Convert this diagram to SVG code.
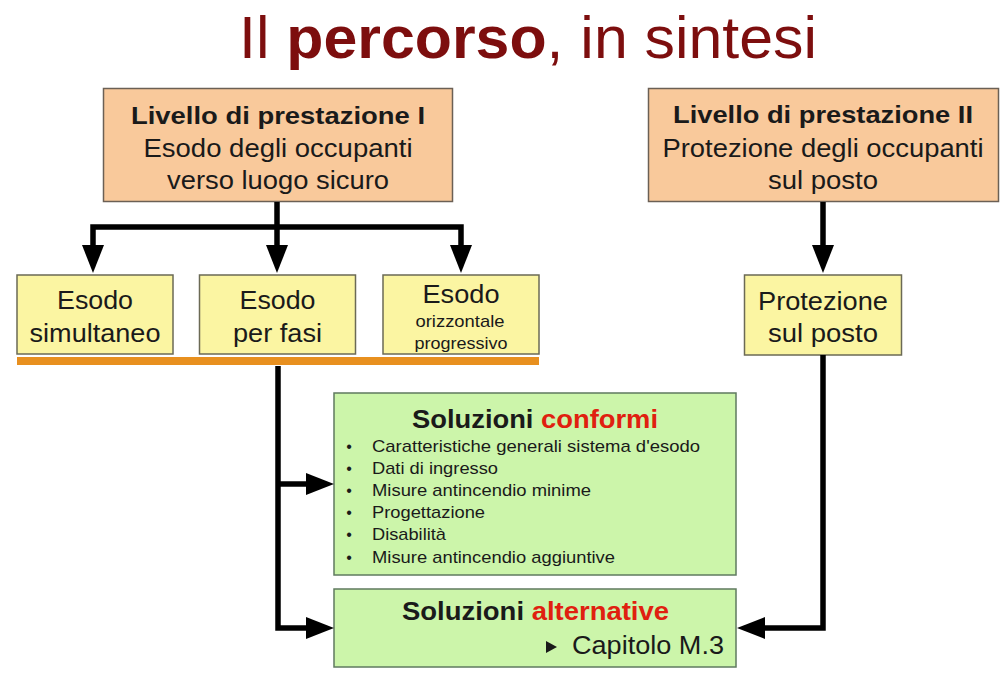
<svg xmlns="http://www.w3.org/2000/svg" width="1006" height="686" viewBox="0 0 1006 686">
<defs>
<marker id="ah" markerUnits="userSpaceOnUse" markerWidth="30" markerHeight="24" refX="0" refY="11" orient="auto-start-reverse">
<path d="M0,0 L28,11 L0,22 z" fill="#000"/>
</marker>
<style>
text{font-family:"Liberation Sans",Arial,sans-serif;fill:#1a1a1a;text-anchor:middle}
.b{font-weight:bold}
.peach{fill:#f9c99b;stroke:#6b6055;stroke-width:1.5}
.yel{fill:#fbf5a2;stroke:#6b6a55;stroke-width:1.5}
.grn{fill:#ccf5aa;stroke:#5f7a5f;stroke-width:1.5}
.red{fill:#e0200f}
.li{text-anchor:start;font-size:17px}
.bul{text-anchor:middle;font-size:16px}
.conn path{fill:none;stroke:#000;stroke-width:5.5;stroke-linejoin:miter}
</style>
</defs>
<rect width="1006" height="686" fill="#fff"/>
<text x="528" y="58" font-size="60" style="fill:#7d0e0e" textLength="578" lengthAdjust="spacingAndGlyphs">Il <tspan class="b" style="fill:#7d0e0e">percorso</tspan>, in sintesi</text>

<g id="liv1">
<rect class="peach" x="103.5" y="88.5" width="349" height="113"/>
<text class="b" x="278" y="124" font-size="24" textLength="294" lengthAdjust="spacingAndGlyphs">Livello di prestazione I</text>
<text x="278" y="157" font-size="25" textLength="269" lengthAdjust="spacingAndGlyphs">Esodo degli occupanti</text>
<text x="278" y="189" font-size="25" textLength="222" lengthAdjust="spacingAndGlyphs">verso luogo sicuro</text>
</g>
<g id="liv2">
<rect class="peach" x="648.5" y="88.5" width="350" height="113"/>
<text class="b" x="823" y="123" font-size="24" textLength="300" lengthAdjust="spacingAndGlyphs">Livello di prestazione II</text>
<text x="823" y="157" font-size="25" textLength="321" lengthAdjust="spacingAndGlyphs">Protezione degli occupanti</text>
<text x="823" y="189" font-size="25" textLength="110" lengthAdjust="spacingAndGlyphs">sul posto</text>
</g>
<g id="simultaneo">
<rect class="yel" x="17" y="275" width="156" height="79"/>
<text x="95" y="309" font-size="25" textLength="76" lengthAdjust="spacingAndGlyphs">Esodo</text>
<text x="95" y="342" font-size="25" textLength="131" lengthAdjust="spacingAndGlyphs">simultaneo</text>
</g>
<g id="fasi">
<rect class="yel" x="199.5" y="275" width="156" height="79"/>
<text x="277.5" y="309" font-size="25" textLength="76" lengthAdjust="spacingAndGlyphs">Esodo</text>
<text x="277.5" y="342" font-size="25" textLength="89" lengthAdjust="spacingAndGlyphs">per fasi</text>
</g>
<g id="orizzontale">
<rect class="yel" x="383" y="275" width="156" height="79"/>
<text x="461" y="303" font-size="25" textLength="77" lengthAdjust="spacingAndGlyphs">Esodo</text>
<text x="460" y="327" font-size="17" textLength="89" lengthAdjust="spacingAndGlyphs">orizzontale</text>
<text x="461" y="349" font-size="17" textLength="93" lengthAdjust="spacingAndGlyphs">progressivo</text>
</g>
<g id="barra">
<rect x="17" y="357" width="522" height="8" fill="#e8901f"/>
</g>
<g id="protezione">
<rect class="yel" x="744.5" y="275" width="157" height="80"/>
<text x="823" y="310" font-size="25" textLength="130" lengthAdjust="spacingAndGlyphs">Protezione</text>
<text x="823" y="342" font-size="25" textLength="110" lengthAdjust="spacingAndGlyphs">sul posto</text>
</g>
<g id="conformi">
<rect class="grn" x="334" y="393" width="402" height="182"/>
<text class="b" x="535" y="428" font-size="25" textLength="246" lengthAdjust="spacingAndGlyphs">Soluzioni <tspan class="red">conformi</tspan></text>
<text class="bul" x="349" y="452">•</text>
<text class="li" x="372" y="452" textLength="328" lengthAdjust="spacingAndGlyphs">Caratteristiche generali sistema d'esodo</text>
<text class="bul" x="349" y="474">•</text>
<text class="li" x="372" y="474" textLength="126" lengthAdjust="spacingAndGlyphs">Dati di ingresso</text>
<text class="bul" x="349" y="496">•</text>
<text class="li" x="372" y="496" textLength="219" lengthAdjust="spacingAndGlyphs">Misure antincendio minime</text>
<text class="bul" x="349" y="518">•</text>
<text class="li" x="372" y="518" textLength="113" lengthAdjust="spacingAndGlyphs">Progettazione</text>
<text class="bul" x="349" y="540">•</text>
<text class="li" x="372" y="540" textLength="74" lengthAdjust="spacingAndGlyphs">Disabilità</text>
<text class="bul" x="349" y="563">•</text>
<text class="li" x="372" y="563" textLength="243" lengthAdjust="spacingAndGlyphs">Misure antincendio aggiuntive</text>
</g>
<g id="alternative">
<rect class="grn" x="334" y="589" width="402" height="78"/>
<text class="b" x="535.5" y="620" font-size="25" textLength="267" lengthAdjust="spacingAndGlyphs">Soluzioni <tspan class="red">alternative</tspan></text>
<path d="M546,641 L557,647 L546,653 z" fill="#1a1a1a"/>
<text x="572" y="654" font-size="25" style="text-anchor:start" textLength="152" lengthAdjust="spacingAndGlyphs">Capitolo M.3</text>
</g>
<g id="connectors" class="conn">
<path d="M277,202 V245" marker-end="url(#ah)"/>
<path d="M93,245 V227 H461 V245" marker-start="url(#ah)" marker-end="url(#ah)"/>
<path d="M823,202 V245" marker-end="url(#ah)"/>
<path d="M823,355 V628 H765" marker-end="url(#ah)"/>
<path d="M278,366 V628 H306" marker-end="url(#ah)"/>
<path d="M278,484 H306" marker-end="url(#ah)"/>
</g>
</svg>
